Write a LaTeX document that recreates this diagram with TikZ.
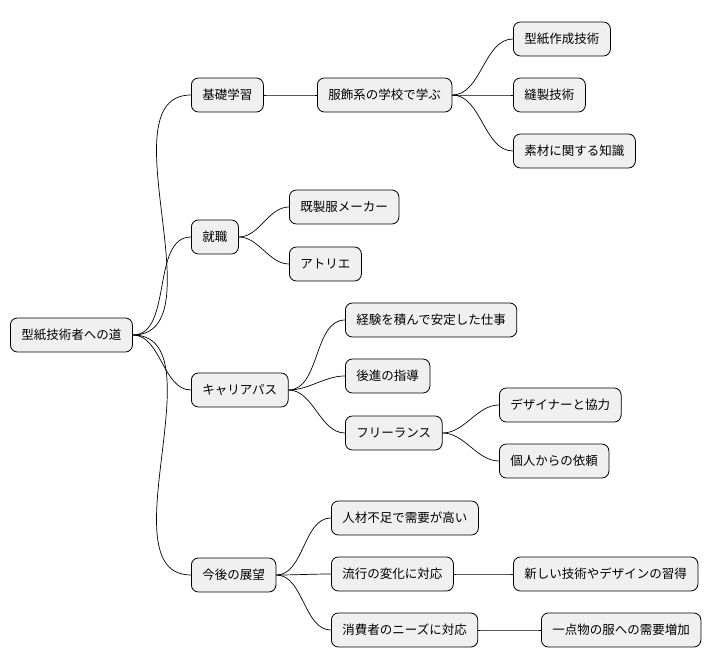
\documentclass[tikz,border=0pt]{standalone}
\usepackage{fontspec}
\setmainfont{Noto Sans CJK JP}
\begin{document}
\begin{tikzpicture}[x=1pt,y=-1pt,
  box/.style={draw=black,line width=0.8pt,fill=black!6,rounded corners=7pt,anchor=west,
    inner xsep=11pt,inner ysep=0pt,minimum height=34pt,font=\fontsize{12.5}{14}\selectfont},
  ln/.style={line width=0.7pt,out=0,in=180,looseness=0.9}]
\useasboundingbox (0,0) rectangle (726,668);
\node[box] (r) at (10,335) {型紙技術者への道};
\node[box] (a) at (191,95) {基礎学習};
\node[box] (a1) at (317,95) {服飾系の学校で学ぶ};
\node[box] (a11) at (513,39) {型紙作成技術};
\node[box] (a12) at (513,95) {縫製技術};
\node[box] (a13) at (513,151) {素材に関する知識};
\node[box] (b) at (191,237) {就職};
\node[box] (b1) at (289,207) {既製服メーカー};
\node[box] (b2) at (289,264) {アトリエ};
\node[box] (c) at (191,390) {キャリアパス};
\node[box] (c1) at (345,320) {経験を積んで安定した仕事};
\node[box] (c2) at (345,376) {後進の指導};
\node[box] (c3) at (345,433) {フリーランス};
\node[box] (c31) at (499,405) {デザイナーと協力};
\node[box] (c32) at (499,461) {個人からの依頼};
\node[box] (d) at (191,575) {今後の展望};
\node[box] (d1) at (331,518) {人材不足で需要が高い};
\node[box] (d2) at (331,574) {流行の変化に対応};
\node[box] (d21) at (513,574) {新しい技術やデザインの習得};
\node[box] (d3) at (331,630) {消費者のニーズに対応};
\node[box] (d31) at (541,630) {一点物の服への需要増加};
\foreach \p/\c in {r/a,r/b,r/c,r/d,a/a1,a1/a11,a1/a12,a1/a13,b/b1,b/b2,c/c1,c/c2,c/c3,c3/c31,c3/c32,d/d1,d/d2,d/d3,d2/d21,d3/d31}
  \draw[ln] (\p.east) to (\c.west);
\end{tikzpicture}
\end{document}
